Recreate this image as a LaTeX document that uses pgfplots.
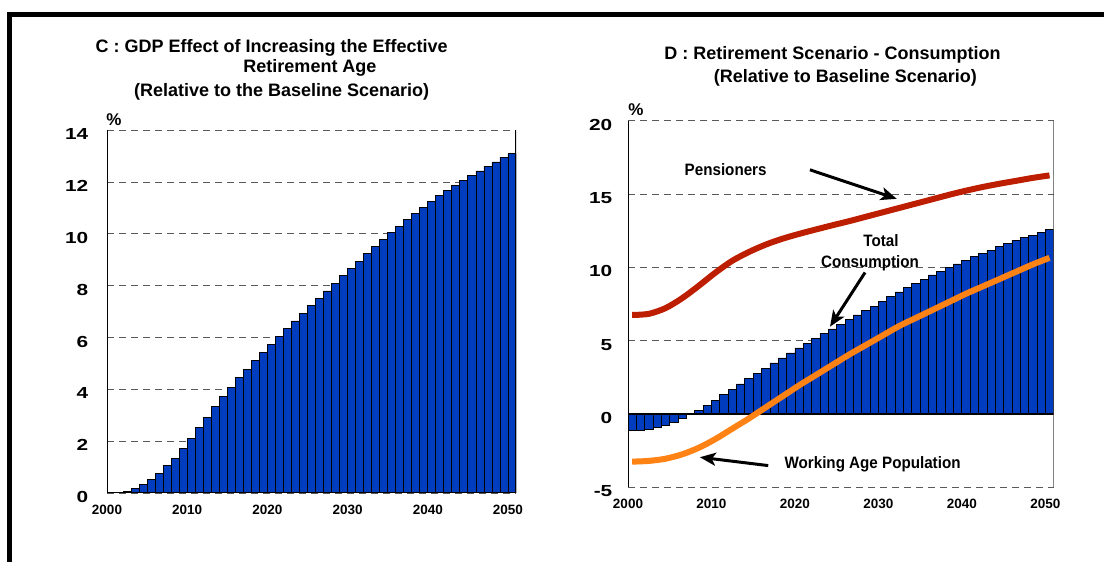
\documentclass[border=0pt]{standalone}
\usepackage{fontspec}
\setmainfont{Liberation Sans}
\usepackage{graphicx}
\usepackage{pgfplots}
\pgfplotsset{compat=1.18}
\usetikzlibrary{arrows.meta}

\definecolor{barblue}{RGB}{0,60,190}
\definecolor{penred}{RGB}{190,30,0}
\definecolor{wporange}{RGB}{255,130,20}
\definecolor{gridgray}{RGB}{90,90,90}

\newcommand{\sy}[1]{\scalebox{1.3}[1]{#1}}
\newcommand{\an}[1]{\scalebox{0.92}[1]{#1}}
\newcommand{\fs}[1]{\fontsize{#1}{#1}\selectfont\bfseries}

\pgfplotsset{
  panel/.style={
    scale only axis, axis line style={draw=none}, anchor=south west,
    xmin=2000, xmax=2051, xtick={2000,2010,...,2050},
    xticklabels={2000,2010,2020,2030,2040,2050},
    major tick length=0pt, ymajorgrids,
    major grid style={gridgray, line width=0.9pt, dash pattern=on 7pt off 5pt},
    xticklabel style={font=\fs{13.5}, anchor=center, inner sep=0pt, yshift=-17pt},
    yticklabel style={font=\fs{16}, anchor=east, inner sep=0pt, yshift=-4pt},
  },
  bars/.style={ybar, bar width=1, bar shift=0pt, fill=barblue, draw=black, line width=0.8pt},
}
\tikzset{arr/.style={black, line width=3pt, -{Stealth[length=16pt, width=13pt, inset=4pt]}}}

\begin{document}
\begin{tikzpicture}
\path[use as bounding box] (0,0) rectangle (1104pt,562pt);
\fill[white] (0,0) rectangle (1104pt,562pt);
% frame
\fill[black] (7.3pt,0) rectangle (11.7pt,550.3pt);
\fill[black] (7.3pt,545.3pt) rectangle (1104pt,550.3pt);

% titles
\node[anchor=base, inner sep=0pt, font=\fs{18}] at (271.7pt,509pt) {C : GDP Effect of Increasing the Effective};
\node[anchor=base, inner sep=0pt, font=\fs{18}] at (310pt,489pt) {Retirement Age};
\node[anchor=base, inner sep=0pt, font=\fs{18}] at (281.7pt,465pt) {(Relative to the Baseline Scenario)};
\node[anchor=base, inner sep=0pt, font=\fs{18}] at (832.5pt,502pt) {D : Retirement Scenario - Consumption};
\node[anchor=base, inner sep=0pt, font=\fs{18}] at (845.3pt,479pt) {(Relative to Baseline Scenario)};
\node[inner sep=0pt, font=\fs{17}] at (114pt,442pt) {\%};
\node[inner sep=0pt, font=\fs{17}] at (636pt,452pt) {\%};

% panel C
\begin{axis}[panel, at={(107pt,69pt)}, width=409pt, height=362.7pt,
  ymin=0, ymax=14, ytick={0,2,...,14},
  yticklabels={\sy{0},\sy{2},\sy{4},\sy{6},\sy{8},\sy{10},\sy{12},\sy{14}},
  yticklabel style={xshift=-18.5pt}]
\addplot[bars] coordinates {(2000.5,0)(2001.5,0.03)(2002.5,0.05)(2003.5,0.17)(2004.5,0.32)(2005.5,0.53)(2006.5,0.77)(2007.5,1.06)(2008.5,1.35)(2009.5,1.71)(2010.5,2.11)(2011.5,2.52)(2012.5,2.93)(2013.5,3.33)(2014.5,3.72)(2015.5,4.08)(2016.5,4.45)(2017.5,4.77)(2018.5,5.12)(2019.5,5.43)(2020.5,5.74)(2021.5,6.04)(2022.5,6.34)(2023.5,6.64)(2024.5,6.94)(2025.5,7.23)(2026.5,7.52)(2027.5,7.80)(2028.5,8.08)(2029.5,8.39)(2030.5,8.67)(2031.5,8.94)(2032.5,9.24)(2033.5,9.51)(2034.5,9.78)(2035.5,10.04)(2036.5,10.30)(2037.5,10.55)(2038.5,10.79)(2039.5,11.03)(2040.5,11.26)(2041.5,11.48)(2042.5,11.69)(2043.5,11.88)(2044.5,12.07)(2045.5,12.25)(2046.5,12.43)(2047.5,12.61)(2048.5,12.78)(2049.5,12.95)(2050.5,13.10)};
\draw[black, line width=1.2pt] (rel axis cs:0,1) -- (rel axis cs:0,0) -- (rel axis cs:1,0) -- (rel axis cs:1,1);
\end{axis}

% panel D
\begin{axis}[panel, at={(628pt,74.7pt)}, width=425.7pt, height=366.6pt,
  ymin=-5, ymax=20, ytick={-5,0,...,20},
  yticklabels={\sy{-5},\sy{0},\sy{5},\sy{10},\sy{15},\sy{20}},
  yticklabel style={xshift=-15.5pt}]
\addplot[bars] coordinates {(2000.5,-1.11)(2001.5,-1.11)(2002.5,-1.05)(2003.5,-0.91)(2004.5,-0.75)(2005.5,-0.55)(2006.5,-0.30)(2007.5,-0.02)(2008.5,0.25)(2009.5,0.59)(2010.5,0.93)(2011.5,1.32)(2012.5,1.70)(2013.5,2.05)(2014.5,2.43)(2015.5,2.75)(2016.5,3.11)(2017.5,3.48)(2018.5,3.82)(2019.5,4.16)(2020.5,4.50)(2021.5,4.84)(2022.5,5.14)(2023.5,5.48)(2024.5,5.80)(2025.5,6.11)(2026.5,6.43)(2027.5,6.75)(2028.5,7.07)(2029.5,7.36)(2030.5,7.70)(2031.5,8.02)(2032.5,8.32)(2033.5,8.61)(2034.5,8.91)(2035.5,9.20)(2036.5,9.48)(2037.5,9.73)(2038.5,9.98)(2039.5,10.23)(2040.5,10.48)(2041.5,10.73)(2042.5,10.95)(2043.5,11.18)(2044.5,11.41)(2045.5,11.61)(2046.5,11.84)(2047.5,12.02)(2048.5,12.20)(2049.5,12.39)(2050.5,12.57)};
\draw[black, line width=1.2pt] (axis cs:2000,0) -- (axis cs:2051,0);
\draw[black, line width=1.2pt] (rel axis cs:0,0) -- (rel axis cs:0,1);
\draw[black!75, line width=1.2pt] (rel axis cs:1,0) -- (rel axis cs:1,1);
% Pensioners
\addplot[penred, line width=6pt, smooth, tension=0.5] coordinates {(2000.5,6.75)(2002.5,6.83)(2004.5,7.22)(2006.5,7.9)(2008.5,8.75)(2010.5,9.65)(2012.5,10.45)(2014.5,11.05)(2016.5,11.55)(2018.5,11.95)(2020.5,12.28)(2022.5,12.58)(2024.5,12.87)(2026.5,13.15)(2028.5,13.45)(2030.5,13.75)(2032.5,14.05)(2034.5,14.35)(2036.5,14.65)(2038.5,14.95)(2040.5,15.23)(2042.5,15.48)(2044.5,15.7)(2046.5,15.9)(2048.5,16.1)(2050.5,16.27)};
% Working age population
\addplot[wporange, line width=6pt, smooth, tension=0.5] coordinates {(2000.5,-3.25)(2002.5,-3.2)(2004.5,-3.05)(2006.5,-2.75)(2008.5,-2.3)(2010.5,-1.7)(2012.5,-1.0)(2014.5,-0.3)(2016.5,0.45)(2018.5,1.2)(2020.5,1.95)(2022.5,2.65)(2024.5,3.35)(2026.5,4.05)(2028.5,4.7)(2030.5,5.35)(2032.5,6.0)(2034.5,6.55)(2036.5,7.1)(2038.5,7.65)(2040.5,8.2)(2042.5,8.7)(2044.5,9.2)(2046.5,9.7)(2048.5,10.2)(2050.5,10.65)};
% annotations
\node[font=\fs{16.5}] at (axis cs:2011.7,16.65) {\an{Pensioners}};
\draw[arr] (axis cs:2021.8,16.65) -- (axis cs:2032.2,14.67);
\node[font=\fs{16.5}] at (axis cs:2030.3,11.82) {\an{Total}};
\node[font=\fs{16.5}] at (axis cs:2029.0,10.27) {\an{Consumption}};
\draw[arr] (axis cs:2028.4,9.65) -- (axis cs:2024.2,5.95);
\node[font=\fs{16.5}] at (axis cs:2029.3,-3.46) {\an{Working Age Population}};
\draw[arr] (axis cs:2016.8,-3.52) -- (axis cs:2008.6,-2.95);
\end{axis}
\end{tikzpicture}
\end{document}
